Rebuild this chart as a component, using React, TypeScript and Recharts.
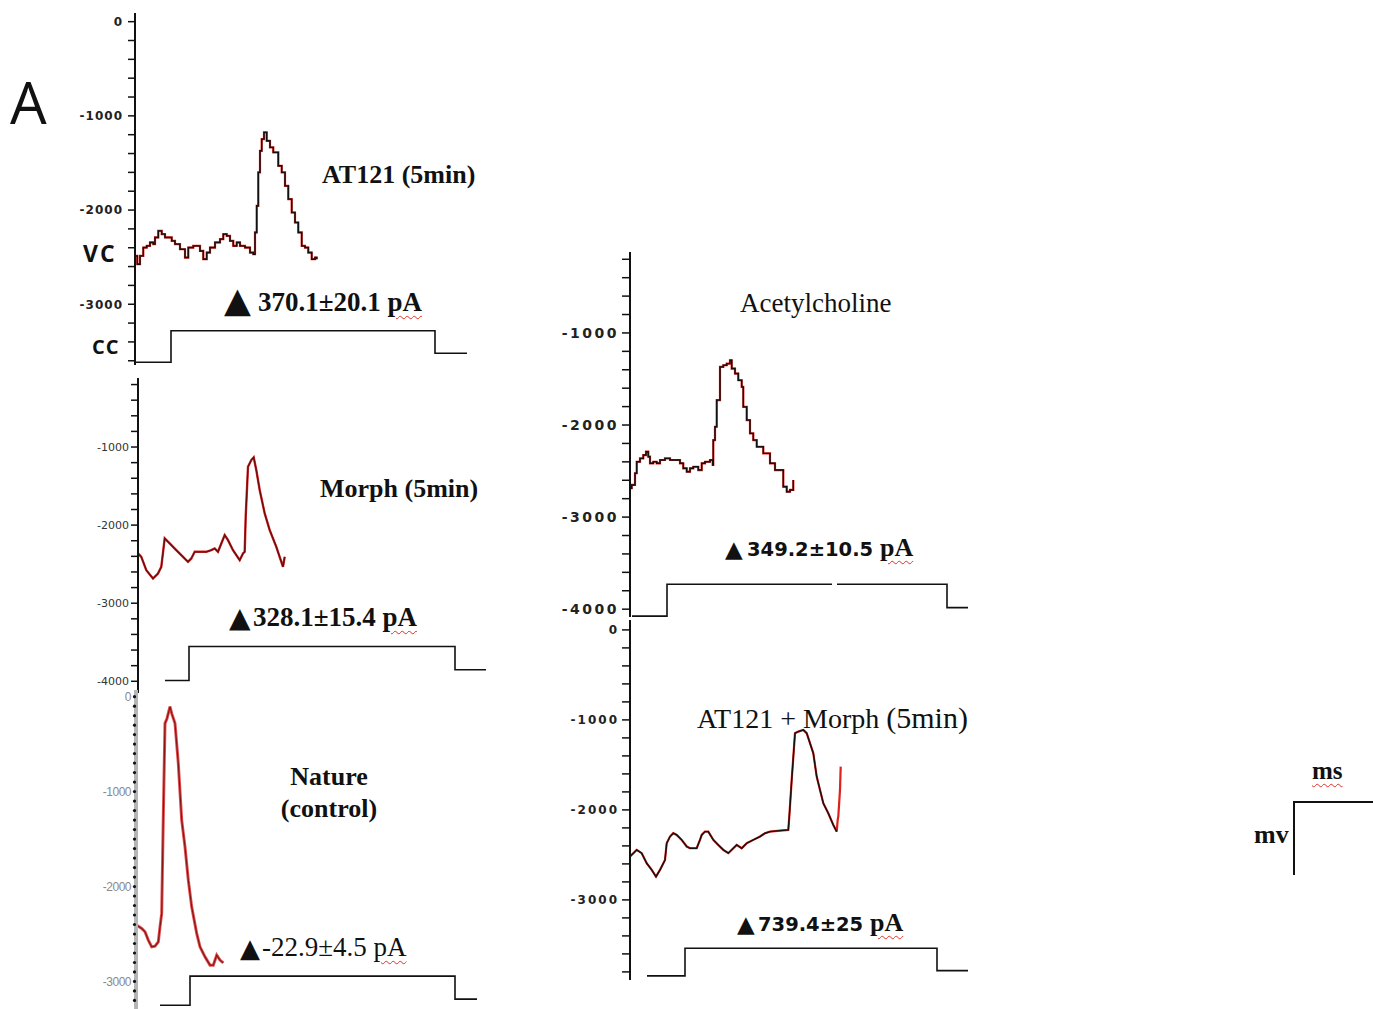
import React from 'react';
import { LineChart, Line, XAxis, YAxis } from 'recharts';

type Pt = { t: number; v: number | null };

// ---- traces (t in ms from axis, v in pA) ----
const at121Trace: Pt[] = [
  { t: 0.5, v: -2487 }, { t: 2.3, v: -2575 }, { t: 5, v: -2487 }, { t: 8.3, v: -2398 }, { t: 11.7, v: -2380 },
  { t: 15, v: -2344 }, { t: 18.3, v: -2362 }, { t: 20, v: -2291 }, { t: 23.3, v: -2221 }, { t: 26.7, v: -2256 },
  { t: 30, v: -2291 }, { t: 33.3, v: -2291 }, { t: 36.7, v: -2327 }, { t: 40, v: -2362 }, { t: 45, v: -2416 },
  { t: 50, v: -2504 }, { t: 53.3, v: -2398 }, { t: 58.3, v: -2380 }, { t: 61.7, v: -2380 }, { t: 65, v: -2434 },
  { t: 68.3, v: -2522 }, { t: 71.7, v: -2451 }, { t: 75, v: -2398 }, { t: 80, v: -2344 }, { t: 85, v: -2309 },
  { t: 88.3, v: -2256 }, { t: 91.7, v: -2274 }, { t: 95, v: -2327 }, { t: 98.3, v: -2380 }, { t: 101.7, v: -2344 },
  { t: 105, v: -2380 }, { t: 110, v: -2398 }, { t: 115, v: -2451 }, { t: 118.3, v: -2469 }, { t: 120, v: -2238 },
  { t: 121.7, v: -1955 }, { t: 123.3, v: -1600 }, { t: 125, v: -1371 }, { t: 126.7, v: -1247 }, { t: 129, v: -1175 },
  { t: 131.7, v: -1265 }, { t: 135, v: -1335 }, { t: 138.3, v: -1388 }, { t: 143.3, v: -1530 }, { t: 146.7, v: -1600 },
  { t: 150, v: -1743 }, { t: 153.3, v: -1884 }, { t: 156.7, v: -2026 }, { t: 160, v: -2132 }, { t: 163.3, v: -2238 },
  { t: 166.7, v: -2380 }, { t: 170, v: -2398 }, { t: 173.3, v: -2451 }, { t: 176.7, v: -2522 }, { t: 180, v: -2504 },
  { t: 181.7, v: -2522 },
];
const at121Step: Pt[] = [
  { t: 0, v: -3616 }, { t: 36, v: -3616 }, { t: 36, v: -3281 }, { t: 300, v: -3281 }, { t: 300, v: -3521 }, { t: 332, v: -3521 },
];

const morphTrace: Pt[] = [
  { t: 0, v: -2363 }, { t: 3.3, v: -2406 }, { t: 8.3, v: -2577 }, { t: 15, v: -2684 }, { t: 20, v: -2620 },
  { t: 23.3, v: -2534 }, { t: 26.7, v: -2171 }, { t: 31.7, v: -2235 }, { t: 38.3, v: -2321 }, { t: 45, v: -2406 },
  { t: 50, v: -2470 }, { t: 53.3, v: -2427 }, { t: 56.7, v: -2342 }, { t: 68.3, v: -2342 }, { t: 73.3, v: -2321 },
  { t: 76.7, v: -2299 }, { t: 80, v: -2342 }, { t: 86.7, v: -2128 }, { t: 90, v: -2192 }, { t: 95, v: -2321 },
  { t: 101.7, v: -2449 }, { t: 105, v: -2363 }, { t: 106.7, v: -2342 }, { t: 107.7, v: -1893 }, { t: 110, v: -1252 },
  { t: 113.3, v: -1167 }, { t: 115.7, v: -1132 }, { t: 118.3, v: -1295 }, { t: 121.7, v: -1551 }, { t: 126.7, v: -1850 },
  { t: 131.7, v: -2064 }, { t: 138.3, v: -2278 }, { t: 145, v: -2534 }, { t: 146.7, v: -2406 },
];
const morphStep: Pt[] = [
  { t: 27, v: -3989 }, { t: 51, v: -3989 }, { t: 51, v: -3554 }, { t: 317, v: -3554 }, { t: 317, v: -3852 }, { t: 348, v: -3852 },
];

const natureTrace: Pt[] = [
  { t: 0.7, v: -2407 }, { t: 5.7, v: -2442 }, { t: 9, v: -2477 }, { t: 12.3, v: -2565 }, { t: 15.7, v: -2635 },
  { t: 19, v: -2628 }, { t: 22.3, v: -2583 }, { t: 24, v: -2425 }, { t: 25.7, v: -2283 }, { t: 27.3, v: -1265 },
  { t: 29, v: -281 }, { t: 31, v: -230 }, { t: 34, v: -106 }, { t: 35.7, v: -176 }, { t: 39, v: -281 },
  { t: 42.3, v: -703 }, { t: 45.7, v: -1300 }, { t: 49, v: -1582 }, { t: 52.3, v: -1933 }, { t: 55.7, v: -2214 },
  { t: 60.7, v: -2494 }, { t: 64, v: -2635 }, { t: 69, v: -2741 }, { t: 74, v: -2828 }, { t: 77.3, v: -2828 },
  { t: 80.7, v: -2723 }, { t: 84, v: -2775 }, { t: 87.3, v: -2804 },
];
const natureStep: Pt[] = [
  { t: 24, v: -3250 }, { t: 54, v: -3250 }, { t: 54, v: -2944 }, { t: 319, v: -2944 }, { t: 319, v: -3186 }, { t: 341, v: -3186 },
];

const achTrace: Pt[] = [
  { t: 0, v: -2687 }, { t: 1.7, v: -2651 }, { t: 5, v: -2524 }, { t: 6.7, v: -2399 }, { t: 10, v: -2362 },
  { t: 13.3, v: -2326 }, { t: 16, v: -2290 }, { t: 18.3, v: -2344 }, { t: 20, v: -2416 }, { t: 23.3, v: -2399 },
  { t: 26.7, v: -2416 }, { t: 30, v: -2380 }, { t: 35, v: -2362 }, { t: 40, v: -2380 }, { t: 45, v: -2380 },
  { t: 50, v: -2416 }, { t: 53.3, v: -2470 }, { t: 56.7, v: -2507 }, { t: 60, v: -2470 }, { t: 63.3, v: -2453 },
  { t: 68.3, v: -2489 }, { t: 71.7, v: -2416 }, { t: 75, v: -2399 }, { t: 80, v: -2380 }, { t: 82.7, v: -2434 },
  { t: 83.3, v: -2164 }, { t: 85, v: -2019 }, { t: 86.7, v: -1730 }, { t: 90, v: -1369 }, { t: 93.3, v: -1351 },
  { t: 96.7, v: -1333 }, { t: 100, v: -1297 }, { t: 101.7, v: -1387 }, { t: 105, v: -1441 }, { t: 108.3, v: -1514 },
  { t: 111.7, v: -1586 }, { t: 113.3, v: -1803 }, { t: 116.7, v: -1947 }, { t: 120, v: -2091 }, { t: 123.3, v: -2164 },
  { t: 126.7, v: -2236 }, { t: 133.3, v: -2308 }, { t: 140, v: -2416 }, { t: 145, v: -2489 }, { t: 150, v: -2489 },
  { t: 153.3, v: -2670 }, { t: 156.7, v: -2724 }, { t: 160, v: -2705 }, { t: 163.3, v: -2597 },
];
const achStep: Pt[] = [
  { t: 2, v: -4075 }, { t: 37, v: -4075 }, { t: 37, v: -3729 }, { t: 202, v: -3729 }, { t: 204, v: null },
  { t: 207, v: -3729 }, { t: 317, v: -3729 }, { t: 317, v: -3983 }, { t: 338, v: -3983 },
];

const comboTrace: Pt[] = [
  { t: 0, v: -2519 }, { t: 3.3, v: -2481 }, { t: 6.7, v: -2444 }, { t: 11.7, v: -2481 }, { t: 16.7, v: -2593 },
  { t: 21.7, v: -2667 }, { t: 26, v: -2741 }, { t: 30, v: -2667 }, { t: 35, v: -2556 }, { t: 36.7, v: -2370 },
  { t: 40, v: -2296 }, { t: 43.3, v: -2259 }, { t: 46.7, v: -2278 }, { t: 51.7, v: -2333 }, { t: 56.7, v: -2407 },
  { t: 60, v: -2426 }, { t: 66.7, v: -2426 }, { t: 70, v: -2333 }, { t: 71.7, v: -2278 }, { t: 75, v: -2241 },
  { t: 78.3, v: -2241 }, { t: 83.3, v: -2333 }, { t: 88.3, v: -2389 }, { t: 93.3, v: -2444 }, { t: 98.3, v: -2481 },
  { t: 103.3, v: -2426 }, { t: 106.7, v: -2389 }, { t: 111.7, v: -2426 }, { t: 116.7, v: -2370 }, { t: 123.3, v: -2333 },
  { t: 130, v: -2296 }, { t: 135, v: -2259 }, { t: 140, v: -2241 }, { t: 150, v: -2230 }, { t: 158.3, v: -2222 },
  { t: 159.3, v: -2074 }, { t: 161.7, v: -1667 }, { t: 165, v: -1148 }, { t: 168.3, v: -1130 }, { t: 173.3, v: -1111 },
  { t: 176.7, v: -1148 }, { t: 180, v: -1259 }, { t: 183.3, v: -1370 }, { t: 186.7, v: -1630 }, { t: 190, v: -1778 },
  { t: 193.3, v: -1926 }, { t: 198.3, v: -2037 }, { t: 203.3, v: -2167 }, { t: 206.7, v: -2241 }, { t: 207.7, v: -2111 },
  { t: 208.3, v: -2074 }, { t: 210, v: -1778 }, { t: 210.7, v: -1519 },
];
const comboStep: Pt[] = [
  { t: 17, v: -3844 }, { t: 55, v: -3844 }, { t: 55, v: -3537 }, { t: 307, v: -3537 }, { t: 307, v: -3786 }, { t: 338, v: -3786 },
];

// ---- axis ticks ----
const ticksA = [0, -200, -400, -600, -800, -1000, -1200, -1400, -1600, -1800, -2000, -2200, -2400, -2600, -2800, -3000, -3200, -3400, -3600];
const ticksB = [-200, -400, -600, -800, -1000, -1200, -1400, -1600, -1800, -2000, -2200, -2400, -2600, -2800, -3000, -3200, -3400, -3600, -3800, -4000];
const ticksC = [0, -100, -200, -300, -400, -500, -600, -700, -800, -900, -1000, -1100, -1200, -1300, -1400, -1500, -1600, -1700, -1800, -1900, -2000, -2100, -2200, -2300, -2400, -2500, -2600, -2700, -2800, -2900, -3000, -3100, -3200];
const ticksE = [0, -200, -400, -600, -800, -1000, -1200, -1400, -1600, -1800, -2000, -2200, -2400, -2600, -2800, -3000, -3200, -3400, -3600, -3800];
const labels0to3000 = [0, -1000, -2000, -3000];
const labels1000to4000 = [-1000, -2000, -3000, -4000];

const AXIS_W = 80;
const serif = '"Liberation Serif", "Times New Roman", serif';
const sans = '"DejaVu Sans", Verdana, sans-serif';
const wavy: React.CSSProperties = {
  textDecorationLine: 'underline', textDecorationStyle: 'wavy', textDecorationColor: '#e0302a',
  textDecorationThickness: '1px', textUnderlineOffset: '4px',
};

interface PanelProps {
  axisX: number; top: number; width: number; height: number;
  domain: [number, number];
  ticks: number[]; labels: number[];
  trace: Pt[]; tail?: Pt[];
  step: Pt[];
  curve: 'linear' | 'stepAfter';
  under: string; over: string; underW: number; overW: number;
  tickLen: number; tickGap: number;
  font: { family: string; size: number; weight: string; spacing: number; fill: string };
  axisColor?: string; axisWidth?: number; dots?: boolean;
}

const Panel: React.FC<PanelProps> = (p) => {
  const renderTick = (props: any) => {
    const { x, y, payload } = props;
    const show = p.labels.includes(payload.value);
    return (
      <g>
        {p.dots && <circle cx={AXIS_W - 1.5} cy={y} r={1.6} fill="#111" />}
        {show && (
          <text x={x} y={y} dy="0.36em" textAnchor="end" fontFamily={p.font.family} fontSize={p.font.size}
            fontWeight={p.font.weight} letterSpacing={p.font.spacing} fill={p.font.fill}>
            {payload.value}
          </text>
        )}
      </g>
    );
  };
  return (
    <div style={{ position: 'absolute', left: p.axisX - AXIS_W, top: p.top }}>
      <LineChart width={AXIS_W + p.width} height={p.height} margin={{ top: 0, right: 0, bottom: 0, left: 0 }}>
        <XAxis type="number" dataKey="t" domain={[0, p.width]} hide allowDataOverflow />
        <YAxis type="number" domain={p.domain} ticks={p.ticks} interval={0} width={AXIS_W} allowDataOverflow
          axisLine={{ stroke: p.axisColor || '#111', strokeWidth: p.axisWidth || 2 }}
          tickLine={p.dots ? false : { stroke: '#111', strokeWidth: 1.5 }}
          tickSize={p.tickLen} tickMargin={p.tickGap} tick={renderTick} />
        <Line data={p.step} dataKey="v" type="linear" stroke="#111" strokeWidth={1.6} dot={false} isAnimationActive={false} />
        <Line data={p.trace} dataKey="v" type={p.curve} stroke={p.under} strokeWidth={p.underW} dot={false} isAnimationActive={false} />
        {p.tail && <Line data={p.tail} dataKey="v" type={p.curve} stroke={p.under} strokeWidth={p.underW} dot={false} isAnimationActive={false} />}
        <Line data={p.trace} dataKey="v" type={p.curve} stroke={p.over} strokeWidth={p.overW} dot={false} isAnimationActive={false} />
      </LineChart>
    </div>
  );
};

// html label placed by its baseline (Liberation Serif ascent ~0.8375 with line-height 1)
const Txt: React.FC<{ x: number; base: number; size: number; bold?: boolean; children: React.ReactNode }> = ({ x, base, size, bold, children }) => (
  <div style={{
    position: 'absolute', left: x, top: base - 0.8375 * size, fontFamily: serif, fontSize: size,
    fontWeight: bold ? 'bold' : 'normal', lineHeight: `${size}px`, whiteSpace: 'nowrap', color: '#111',
  }}>{children}</div>
);

const App: React.FC = () => {
  return (
    <div style={{ position: 'absolute', left: 0, top: 0, width: 1373, height: 1009, background: '#fff', overflow: 'hidden' }}>
      {/* AT121 (5min) */}
      <Panel axisX={135} top={13} width={340} height={352} domain={[-3645, 92]} ticks={ticksA} labels={labels0to3000}
        trace={at121Trace} step={at121Step} curve="stepAfter" under="#e0201b" over="#111" underW={2.2} overW={1.4}
        tickLen={7} tickGap={5} font={{ family: sans, size: 12, weight: 'bold', spacing: 1, fill: '#222' }} />

      {/* Morph (5min) */}
      <Panel axisX={138} top={378} width={360} height={315} domain={[-4150, -116]} ticks={ticksB} labels={labels1000to4000}
        trace={morphTrace} step={morphStep} curve="linear" under="#d42a2a" over="#6b0c0c" underW={2.4} overW={1.3}
        tickLen={7} tickGap={2} font={{ family: sans, size: 11, weight: 'normal', spacing: 0, fill: '#333' }} />

      {/* Nature (control) */}
      <Panel axisX={136} top={690} width={350} height={319} domain={[-3290, 70]} ticks={ticksC} labels={labels0to3000}
        trace={natureTrace} step={natureStep} curve="linear" under="#e05050" over="#8b1515" underW={3} overW={1.2}
        tickLen={0} tickGap={5} dots axisColor="#b5b5b5" axisWidth={4}
        font={{ family: '"Liberation Sans Narrow", "Liberation Sans", sans-serif', size: 12, weight: 'normal', spacing: -0.5, fill: '#8a8a8a' }} />

      {/* Acetylcholine */}
      <Panel axisX={630} top={252} width={345} height={365} domain={[-4085, -121]} ticks={ticksB} labels={labels1000to4000}
        trace={achTrace} step={achStep} curve="stepAfter" under="#e0201b" over="#111" underW={2.2} overW={1.4}
        tickLen={8} tickGap={3} font={{ family: sans, size: 14, weight: 'bold', spacing: 2.5, fill: '#222' }} />

      {/* AT121 + Morph (5min) */}
      <Panel axisX={630} top={620} width={345} height={360} domain={[-3890, 110]} ticks={ticksE} labels={labels0to3000}
        trace={comboTrace.slice(0, 49)} tail={comboTrace.slice(48)} step={comboStep} curve="linear"
        under="#e0201b" over="#111" underW={2.2} overW={1.4}
        tickLen={8} tickGap={3} font={{ family: sans, size: 12, weight: 'bold', spacing: 2, fill: '#222' }} />

      {/* scale bar */}
      <div style={{ position: 'absolute', left: 1293, top: 801, width: 79, height: 72, borderTop: '2px solid #111', borderLeft: '2px solid #111' }} />

      <svg width={1373} height={1009} style={{ position: 'absolute', left: 0, top: 0, pointerEvents: 'none' }}>
        <text x={10} y={124} fontFamily='"Open Sans", sans-serif' fontSize={58} fill="#111">A</text>

        <text x={322} y={183} fontFamily={serif} fontWeight="bold" fontSize={26} fill="#111">AT121 (5min)</text>
        <text x={224} y={312} fontFamily={sans} fontSize={35} fill="#111">▲</text>
        <text x={83} y={262} fontFamily='"Open Sans", sans-serif' fontWeight="bold" fontSize={23} letterSpacing={2} fill="#111">VC</text>
        <text x={92} y={354} fontFamily='"Open Sans", sans-serif' fontWeight="bold" fontSize={20} letterSpacing={1} fill="#111">CC</text>

        <text x={320} y={497} fontFamily={serif} fontWeight="bold" fontSize={26} fill="#111">Morph (5min)</text>
        <text x={229} y={627} fontFamily={sans} fontSize={28} fill="#111">▲</text>

        <text x={329} y={785} textAnchor="middle" fontFamily={serif} fontWeight="bold" fontSize={26} fill="#111">Nature</text>
        <text x={329} y={817} textAnchor="middle" fontFamily={serif} fontWeight="bold" fontSize={26} fill="#111">(control)</text>
        <text x={240} y={957} fontFamily={sans} fontSize={26} fill="#111">▲</text>

        <text x={740} y={312} fontFamily={serif} fontSize={27} fill="#111">Acetylcholine</text>
        <text x={725} y={557} fontFamily={sans} fontSize={23} fill="#111">▲</text>

        <text x={697} y={728} fontFamily={serif} fontSize={28} fill="#111">AT121 + Morph <tspan fontSize={30}>(5min)</tspan></text>
        <text x={737} y={932} fontFamily={sans} fontSize={23} fill="#111">▲</text>

        <text x={1254} y={843} fontFamily={serif} fontWeight="bold" fontSize={26} fill="#111">mv</text>
      </svg>

      {/* labels with the red wavy underline */}
      <Txt x={258} base={312} size={27} bold>370.1±20.1 <span style={wavy}>pA</span></Txt>
      <Txt x={253} base={627} size={27} bold>328.1±15.4 <span style={wavy}>pA</span></Txt>
      <Txt x={262} base={957} size={27}>-22.9±4.5 <span style={wavy}>pA</span></Txt>
      <Txt x={747} base={557} size={26} bold>
        <span style={{ fontFamily: sans, fontSize: 19.5 }}>349.2±10.5 </span><span style={wavy}>pA</span>
      </Txt>
      <Txt x={758} base={932} size={26} bold>
        <span style={{ fontFamily: sans, fontSize: 19.5 }}>739.4±25 </span><span style={wavy}>pA</span>
      </Txt>
      <Txt x={1312} base={779} size={25} bold><span style={wavy}>ms</span></Txt>
    </div>
  );
};

export default App;
